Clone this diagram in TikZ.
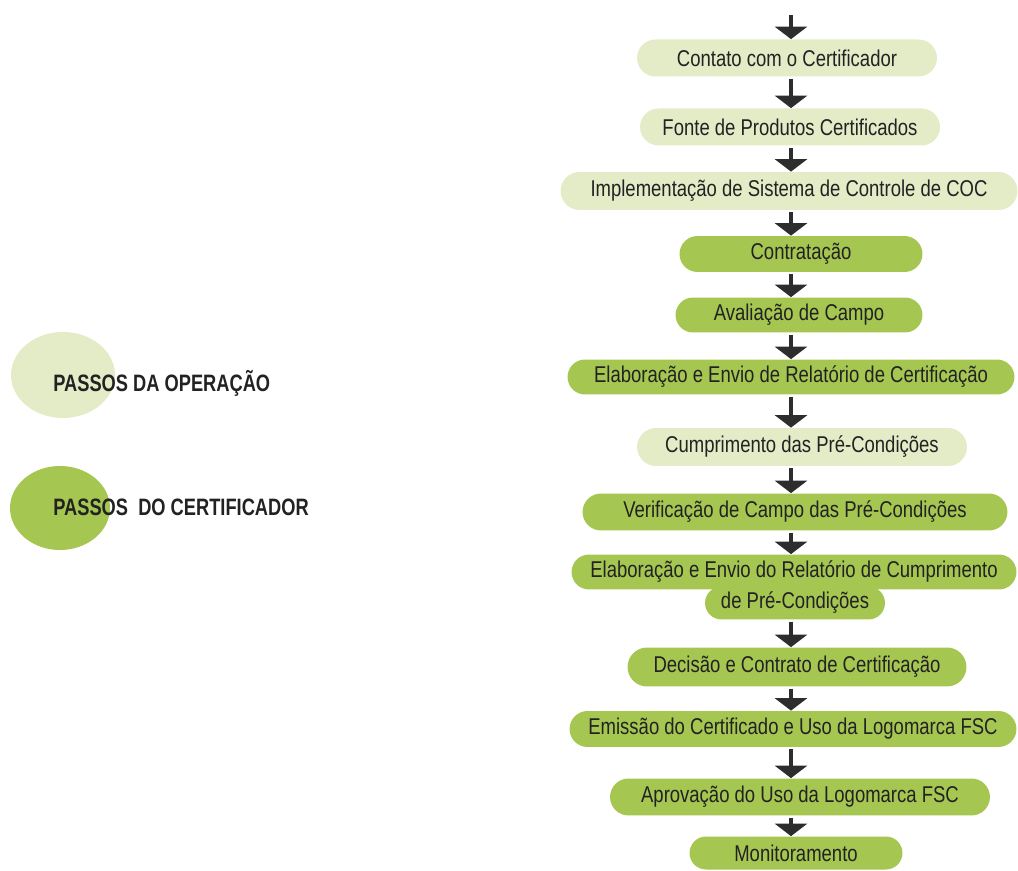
\documentclass[tikz,border=0pt]{standalone}
\usepackage{fontspec}
\setmainfont[FakeStretch=0.81]{Liberation Sans}
\newfontfamily\legendfont[FakeStretch=0.77]{Liberation Sans}
\usepackage{tikz}
\usetikzlibrary{shapes.misc, arrows.meta}

\definecolor{oplight}{RGB}{227,236,199}
\definecolor{certgreen}{RGB}{166,198,82}
\definecolor{inkgray}{RGB}{34,34,34}
\definecolor{arrowgray}{RGB}{45,45,45}

\begin{document}
\begin{tikzpicture}[x=0.02cm, y=-0.02cm,
    stepbox/.style={rounded rectangle, inner sep=0pt, text=inkgray,
        font=\fontsize{13}{15}\selectfont},
    opstep/.style={stepbox, fill=oplight},
    certstep/.style={stepbox, fill=certgreen},
    flow/.style={arrowgray, line width=2.8pt, shorten <=1pt,
        -{Triangle[width=0.64cm, length=0.25cm]}},
    legendtext/.style={anchor=west, text=inkgray, inner sep=0pt,
        font=\legendfont\bfseries\fontsize{13.5}{15}\selectfont}]
    \useasboundingbox (0, 0) rectangle (1018, 871);

    % Legend
    \fill[oplight] (63, 375) ellipse (1.04cm and 0.86cm);
    \fill[certgreen] (60, 508) ellipse (1.0cm and 0.84cm);
    \node[legendtext] (lgop) at (53, 383) {PASSOS DA OPERAÇÃO};
    \node[legendtext] (lgcert) at (53, 507) {PASSOS\ \ DO CERTIFICADOR};

    % Steps
    \coordinate (start) at (791, 13);
    \node[opstep, minimum width=6.0cm, minimum height=0.74cm] (s1) at (787, 58) {Contato com o Certificador};
    \node[opstep, minimum width=6.0cm, minimum height=0.74cm] (s2) at (790, 127) {Fonte de Produtos Certificados};
    \node[opstep, minimum width=9.14cm, minimum height=0.76cm] (s3) at (789, 191) {Implementação de Sistema de Controle de COC};
    \node[certstep, minimum width=4.86cm, minimum height=0.72cm] (s4) at (801, 254) {Contratação};
    \node[certstep, minimum width=4.94cm, minimum height=0.70cm] (s5) at (799, 315) {Avaliação de Campo};
    \node[certstep, minimum width=8.94cm, minimum height=0.70cm] (s6) at (791, 377) {Elaboração e Envio de Relatório de Certificação};
    \node[opstep, minimum width=6.6cm, minimum height=0.76cm] (s7) at (802, 447) {Cumprimento das Pré-Condições};
    \node[certstep, minimum width=8.5cm, minimum height=0.74cm] (s8) at (795, 512) {Verificação de Campo das Pré-Condições};
    \node[certstep, minimum width=3.6cm, minimum height=0.66cm] (s9b) at (795, 603) {de Pré-Condições};
    \node[certstep, minimum width=8.9cm, minimum height=0.70cm] (s9a) at (794, 572) {Elaboração e Envio do Relatório de Cumprimento};
    \node[certstep, minimum width=6.78cm, minimum height=0.78cm] (s10) at (797, 667) {Decisão e Contrato de Certificação};
    \node[certstep, minimum width=8.94cm, minimum height=0.72cm] (s11) at (793, 729) {Emissão do Certificado e Uso da Logomarca FSC};
    \node[certstep, minimum width=7.6cm, minimum height=0.74cm] (s12) at (800, 797) {Aprovação do Uso da Logomarca FSC};
    \node[certstep, minimum width=4.26cm, minimum height=0.66cm] (s13) at (796, 853) {Monitoramento};

    % Arrows
    \draw[flow] (start) -- (s1.north -| start);
    \foreach \a/\b in {s1/s2, s2/s3, s3/s4, s4/s5, s5/s6, s6/s7, s7/s8, s8/s9a, s9b/s10, s10/s11, s11/s12, s12/s13} {
        \draw[flow] (\a.south -| start) -- (\b.north -| start);
    }
\end{tikzpicture}
\end{document}
